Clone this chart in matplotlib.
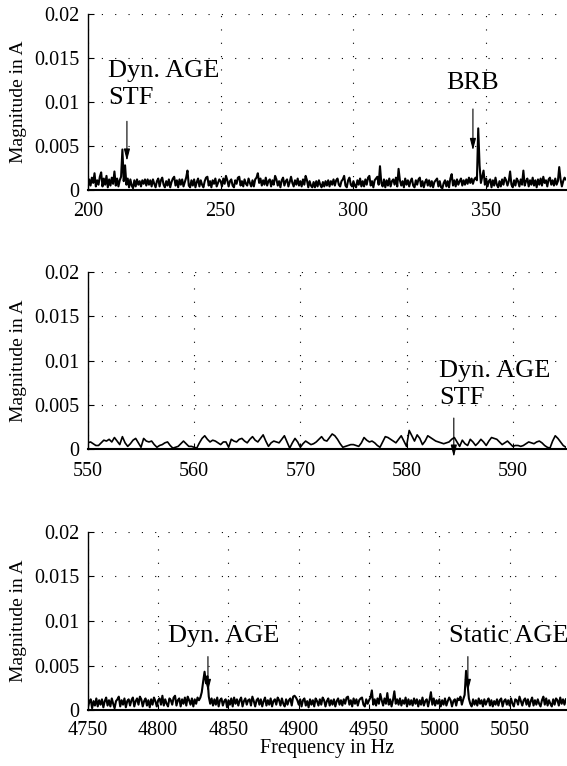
import numpy as np
import matplotlib
matplotlib.use("Agg")
import matplotlib.pyplot as plt

plt.rcParams['font.family'] = ['Liberation Serif', 'DejaVu Serif']

SCALE = 1e-4  # values below are in units of 1e-4 A

# ---- Panel 1: 200-380 Hz, 0.5 Hz steps ----
f1_start, f1_step = 200.0, 0.5
mag1 = [
    3, 12, 5, 14, 8, 19, 4, 11, 6, 15,
    20, 4, 13, 6, 16, 3, 12, 5, 14, 7,
    21, 5, 13, 4, 11, 15, 46, 10, 28, 6,
    13, 3, 12, 5, 2, 11, 4, 12, 6, 10,
    4, 11, 7, 12, 5, 12, 6, 11, 4, 12,
    7, 3, 10, 13, 4, 11, 14, 6, 3, 10,
    5, 12, 3, 9, 13, 15, 5, 11, 3, 12,
    6, 12, 4, 9, 14, 22, 5, 3, 11, 5,
    12, 3, 9, 13, 4, 11, 6, 3, 10, 14,
    15, 5, 10, 3, 11, 7, 13, 4, 8, 12,
    10, 4, 13, 7, 16, 11, 4, 10, 12, 5,
    3, 11, 7, 14, 15, 5, 10, 4, 12, 7,
    5, 13, 8, 4, 11, 4, 12, 14, 19, 8,
    13, 5, 11, 6, 14, 5, 10, 12, 4, 11,
    6, 16, 12, 5, 10, 3, 11, 14, 5, 10,
    12, 4, 9, 15, 8, 4, 11, 6, 13, 5,
    10, 4, 12, 6, 16, 11, 3, 10, 5, 3,
    9, 3, 10, 4, 11, 6, 3, 9, 4, 10,
    5, 11, 4, 10, 6, 12, 5, 11, 13, 6,
    4, 10, 12, 16, 5, 3, 11, 14, 6, 4,
    10, 5, 3, 11, 6, 13, 4, 10, 4, 12,
    6, 14, 16, 5, 10, 3, 11, 13, 15, 6,
    27, 8, 4, 12, 3, 11, 5, 13, 4, 10,
    12, 6, 14, 4, 24, 11, 5, 10, 3, 13,
    6, 11, 4, 10, 13, 5, 3, 11, 6, 12,
    14, 4, 10, 3, 9, 12, 5, 11, 4, 10,
    3, 9, 11, 13, 4, 10, 3, 2, 8, 11,
    4, 10, 3, 13, 18, 5, 11, 4, 12, 6,
    10, 13, 5, 11, 6, 12, 7, 14, 8, 13,
    7, 12, 14, 11, 70, 28, 8, 15, 22, 6,
    13, 4, 10, 12, 3, 11, 5, 14, 6, 3,
    10, 4, 12, 6, 14, 11, 5, 10, 21, 6,
    3, 11, 5, 13, 10, 4, 12, 6, 22, 5,
    10, 13, 4, 11, 6, 14, 5, 11, 3, 12,
    6, 13, 5, 15, 8, 11, 4, 12, 14, 6,
    11, 5, 13, 6, 10, 26, 12, 4, 10, 14,
    12,
]

# ---- Panel 2: 550-595 Hz, 0.25 Hz steps ----
f2_start, f2_step = 550.0, 0.25
mag2 = [
    7, 8, 6, 4, 4, 7, 10, 9, 11, 8,
    13, 9, 5, 14, 7, 3, 6, 10, 12, 7,
    2, 12, 9, 8, 9, 5, 2, 4, 5, 7,
    8, 4, 1, 2, 3, 6, 9, 6, 3, 3,
    2, 1, 7, 12, 15, 11, 8, 10, 9, 7,
    5, 8, 8, 2, 11, 9, 8, 11, 12, 9,
    7, 11, 14, 10, 8, 12, 16, 9, 3, 7,
    9, 8, 7, 11, 15, 8, 1, 7, 12, 8,
    2, 6, 9, 7, 5, 6, 8, 11, 14, 10,
    9, 13, 17, 15, 11, 6, 2, 3, 4, 5,
    5, 4, 3, 7, 13, 10, 8, 9, 7, 4,
    2, 8, 14, 13, 11, 9, 7, 11, 15, 9,
    3, 21, 15, 9, 16, 12, 5, 9, 15, 13,
    11, 9, 8, 7, 6, 7, 8, 11, 13, 8,
    3, 10, 6, 4, 11, 8, 4, 7, 11, 8,
    4, 9, 13, 12, 11, 8, 5, 7, 9, 6,
    3, 4, 4, 3, 4, 6, 8, 7, 6, 8,
    9, 7, 4, 2, 1, 9, 15, 12, 8, 4,
    2,
]

# ---- Panel 3: 4750-5090 Hz, 1 Hz steps ----
f3_start, f3_step = 4750.0, 1.0
mag3 = [
    3, 9, 12, 2, 10, 5, 13, 4, 11, 6,
    12, 3, 10, 14, 5, 11, 4, 13, 7, 2,
    10, 12, 15, 4, 11, 6, 13, 3, 10, 12,
    5, 11, 14, 4, 10, 13, 6, 15, 12, 4,
    10, 13, 5, 11, 3, 12, 6, 14, 10, 4,
    11, 13, 6, 16, 5, 12, 7, 4, 13, 11,
    6, 14, 16, 5, 11, 13, 4, 12, 7, 14,
    5, 15, 11, 6, 13, 4, 12, 7, 14, 11,
    14, 20, 32, 43, 30, 38, 15, 7, 13, 5,
    12, 6, 14, 4, 11, 13, 5, 10, 12, 3,
    11, 6, 13, 4, 14, 7, 12, 5, 11, 14,
    4, 10, 13, 6, 11, 12, 5, 15, 10, 4,
    11, 13, 6, 12, 4, 10, 14, 5, 11, 6,
    13, 4, 10, 12, 6, 14, 11, 5, 13, 7,
    4, 12, 6, 11, 13, 5, 15, 16, 14, 11,
    6, 12, 4, 11, 13, 5, 10, 3, 12, 6,
    11, 4, 13, 10, 5, 12, 6, 14, 11, 4,
    10, 13, 5, 11, 6, 12, 4, 10, 13, 6,
    11, 5, 12, 7, 14, 15, 6, 11, 4, 13,
    7, 12, 5, 11, 13, 14, 6, 4, 12, 7,
    11, 14, 22, 6, 12, 5, 13, 7, 18, 11,
    5, 13, 7, 19, 6, 12, 4, 11, 21, 7,
    12, 6, 13, 5, 11, 7, 14, 4, 12, 6,
    11, 5, 13, 7, 12, 4, 11, 6, 14, 5,
    10, 12, 4, 11, 20, 6, 13, 5, 11, 7,
    12, 4, 11, 6, 13, 5, 10, 14, 11, 4,
    10, 12, 5, 13, 11, 15, 6, 12, 17, 44,
    30, 13, 7, 4, 12, 6, 11, 5, 13, 7,
    11, 4, 12, 6, 10, 13, 5, 11, 4, 10,
    6, 12, 5, 11, 13, 4, 10, 12, 6, 11,
    5, 13, 7, 4, 12, 11, 6, 15, 10, 5,
    11, 13, 6, 12, 4, 10, 14, 5, 11, 6,
    12, 7, 4, 11, 15, 6, 13, 5, 11, 7,
    4, 12, 6, 13, 11, 5, 14, 7, 12, 6,
    12,
]

xlims = [(200, 380), (550, 595), (4750, 5090)]
xticks = [[200, 250, 300, 350], [550, 560, 570, 580, 590],
          [4750, 4800, 4850, 4900, 4950, 5000, 5050]]
yticks = [0, 0.005, 0.01, 0.015, 0.02]
ytick_labels = ['0', '0.005', '0.01', '0.015', '0.02']

# annotations: (text, text_x, text_y, arrow_x, arrow_top, arrow_head)
annots = [
    [("Dyn. AGE\nSTF", 207.5, 0.0148, 214.7, 0.0078, 0.0033),
     ("BRB", 334.8, 0.0134, 345.0, 0.0092, 0.0045)],
    [("Dyn. AGE\nSTF", 583.1, 0.0101, 584.45, 0.0035, -0.0009)],
    [("Dyn. AGE", 4806.9, 0.0095, 4835.4, 0.0060, 0.0021),
     ("Static AGE", 5006.8, 0.0095, 5020.3, 0.0060, 0.0021)],
]
line_widths = [1.5, 1.2, 1.5]
xtick_pads = [9, 9, 8]

series = [(f1_start, f1_step, mag1), (f2_start, f2_step, mag2), (f3_start, f3_step, mag3)]

fig = plt.figure(figsize=(5.67, 7.66), dpi=100)
boxes = [(0.155, 0.752, 0.843, 0.2298),
         (0.155, 0.4138, 0.843, 0.231),
         (0.155, 0.0731, 0.843, 0.2324)]

for i, (box, (fs, fstep, mag)) in enumerate(zip(boxes, series)):
    ax = fig.add_axes(box)
    vals = np.array(mag) * SCALE
    freq = fs + fstep * np.arange(len(vals))
    ax.plot(freq, vals, color='black', lw=line_widths[i])
    ax.set_xlim(*xlims[i])
    ax.set_ylim(0, 0.02)
    ax.set_xticks(xticks[i])
    ax.set_yticks(yticks)
    ax.set_yticklabels(ytick_labels)
    ax.tick_params(direction='in', length=4, width=0.8, labelsize=14.5)
    ax.tick_params(axis='x', pad=xtick_pads[i])
    ax.tick_params(axis='y', pad=6)
    ax.grid(True, color='black', linestyle=(0, (1, 11)), linewidth=0.8)
    for s in ['top', 'right']:
        ax.spines[s].set_visible(False)
    ax.spines['left'].set_linewidth(1.0)
    ax.spines['bottom'].set_linewidth(1.5)
    ax.set_ylabel('Magnitude in A', fontsize=14, labelpad=5)
    for (txt, tx, ty, axx, atop, ahead) in annots[i]:
        ax.text(tx, ty, txt, fontsize=19, ha='left', va='top', linespacing=1.3)
        ax.annotate('', xy=(axx, ahead), xytext=(axx, atop),
                    arrowprops=dict(arrowstyle='-|>,head_length=0.7,head_width=0.18',
                                    color='black', lw=0.8, shrinkA=0, shrinkB=0),
                    annotation_clip=False)
    if i == 2:
        ax.set_xlabel('Frequency in Hz', fontsize=14.5, labelpad=-1)

fig.savefig('out.png', dpi=100)
